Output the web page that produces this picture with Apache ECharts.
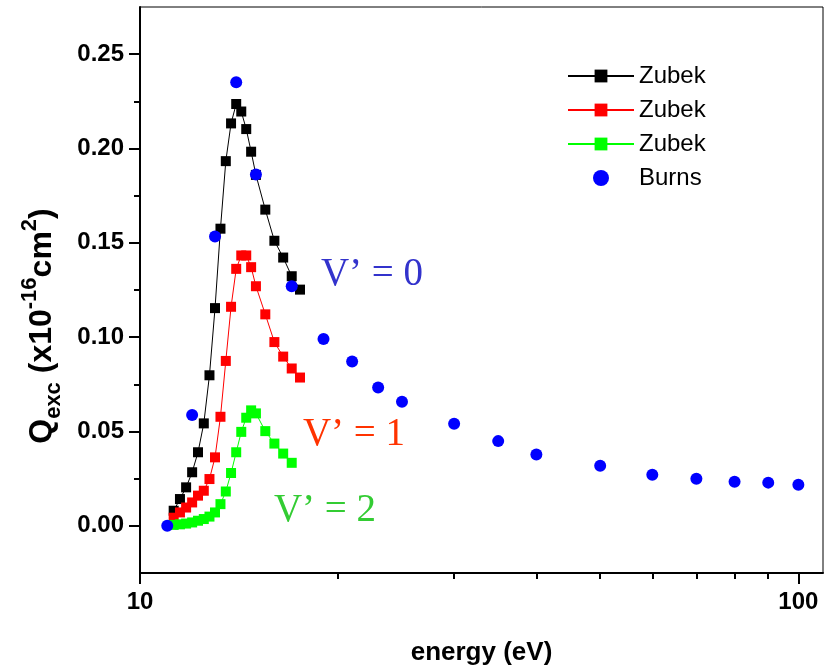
<!DOCTYPE html>
<html>
<head>
<meta charset="utf-8">
<script src="https://cdn.jsdelivr.net/npm/echarts@6/dist/echarts.min.js"></script>
<style>html,body{margin:0;padding:0;background:#fff}#c{width:827px;height:666px}</style>
</head>
<body>
<div id="c"></div>
<script>
// ---- data ----
const zubekEnergy = [11.25, 11.5, 11.75, 12.0, 12.25, 12.5, 12.75, 13.0, 13.25, 13.5, 13.75, 14.0, 14.25, 14.5, 14.75, 15.0, 15.5, 16.0, 16.5, 17.0, 17.5];
const zubekV0 = [0.0080, 0.0142, 0.0204, 0.0284, 0.0390, 0.0543, 0.0798, 0.1154, 0.1575, 0.1933, 0.2133, 0.2236, 0.2196, 0.2103, 0.1983, 0.1860, 0.1676, 0.1511, 0.1422, 0.1323, 0.1252];
const zubekV1 = [0.0043, 0.0071, 0.0097, 0.0124, 0.0160, 0.0186, 0.0248, 0.0363, 0.0578, 0.0874, 0.1161, 0.1362, 0.1433, 0.1433, 0.1371, 0.1270, 0.1121, 0.0974, 0.0897, 0.0834, 0.0786];
const zubekV2Energy = [11.25, 11.5, 11.75, 12.0, 12.25, 12.5, 12.75, 13.0, 13.25, 13.5, 13.75, 14.0, 14.25, 14.5, 14.75, 15.0, 15.5, 16.0, 16.5, 17.0];
const zubekV2 = [0.0005, 0.0008, 0.0012, 0.0018, 0.0027, 0.0036, 0.0049, 0.0071, 0.0115, 0.0182, 0.0280, 0.0390, 0.0498, 0.0573, 0.0612, 0.0596, 0.0502, 0.0436, 0.0383, 0.0334];
const burnsEnergy = [11, 12, 13, 14, 15, 17, 19, 21, 23, 25, 30, 35, 40, 50, 60, 70, 80, 90, 100];
const burnsQ = [0.0, 0.0587, 0.1534, 0.2351, 0.1862, 0.1270, 0.0990, 0.0871, 0.0733, 0.0658, 0.0541, 0.0449, 0.0378, 0.0319, 0.0271, 0.0250, 0.0234, 0.0229, 0.0218];

const seriesNames = ['Zubek v0', 'Zubek v1', 'Zubek v2', 'Burns'];
const xMajorTicks = [10, 100];
const xMinorTicks = [20, 30, 40, 50, 60, 70, 80, 90];
const yMajorTicks = [0, 0.05, 0.10, 0.15, 0.20, 0.25];
const yMinorTicks = [0.025, 0.075, 0.125, 0.175, 0.225];
const annotationTexts = ['V\u2019 = 0', 'V\u2019 = 1', 'V\u2019 = 2'];
const xTitle = 'energy (eV)';

// ---- chart ----
const FONT = '"Liberation Sans", Arial, sans-serif';
const SERIF = '"Liberation Serif", "Times New Roman", serif';
const pairs = (xs, ys) => xs.map((x, i) => [x, ys[i]]);

const chart = echarts.init(document.getElementById('c'), null, {renderer: 'canvas'});

const tickStyle = {color: '#000', width: 2};
const option = {
  animation: false,
  backgroundColor: '#fff',
  grid: {left: 140, top: 7, width: 683, height: 566, show: true, borderColor: '#000', borderWidth: 1,
         backgroundColor: 'transparent', containLabel: false, outerBoundsMode: 'none'},
  legend: {
    orient: 'vertical', left: 562, top: 59,
    itemWidth: 66, itemHeight: 16, itemGap: 10,
    textStyle: {fontFamily: FONT, fontSize: 24, color: '#000', lineHeight: 24},
    formatter: n => n.split(' ')[0],
    data: seriesNames
  },
  xAxis: [
    {
      type: 'log', logBase: 10, min: 10, max: 109,
      name: xTitle, nameLocation: 'middle', nameGap: 67,
      nameTextStyle: {fontFamily: FONT, fontWeight: 'bold', fontSize: 26, color: '#000'},
      axisLine: {show: true, onZero: false, lineStyle: {color: '#000', width: 2}},
      axisTick: {show: true, inside: false, length: 11, lineStyle: tickStyle, customValues: xMajorTicks},
      axisLabel: {customValues: xMajorTicks, fontFamily: FONT, fontWeight: 'bold', fontSize: 24, color: '#000', margin: 17,
                  formatter: v => String(Math.round(v))},
      splitLine: {show: false}, minorTick: {show: false}, minorSplitLine: {show: false}
    },
    {
      type: 'log', logBase: 10, min: 10, max: 109, position: 'bottom',
      axisLine: {show: false, onZero: false},
      axisTick: {show: true, inside: false, length: 6, lineStyle: tickStyle, customValues: xMinorTicks},
      axisLabel: {show: false}, splitLine: {show: false}
    }
  ],
  yAxis: [
    {
      type: 'value', min: -0.025, max: 0.275, position: 'left',
      axisLine: {show: true, onZero: false, lineStyle: {color: '#000', width: 2}},
      axisTick: {show: true, inside: false, length: 11, lineStyle: tickStyle, customValues: yMajorTicks},
      axisLabel: {customValues: yMajorTicks, fontFamily: FONT, fontWeight: 'bold', fontSize: 24, color: '#000', margin: 16,
                  formatter: v => Number(v).toFixed(2)},
      splitLine: {show: false}
    },
    {
      type: 'value', min: -0.025, max: 0.275, position: 'left', offset: 0,
      axisLine: {show: false, onZero: false},
      axisTick: {show: true, inside: false, length: 6, lineStyle: tickStyle, customValues: yMinorTicks},
      axisLabel: {show: false}, splitLine: {show: false}
    }
  ],
  series: [
    {name: seriesNames[0], type: 'line', data: pairs(zubekEnergy, zubekV0), symbol: 'rect', symbolSize: 10,
     itemStyle: {color: '#000000', opacity: 1}, lineStyle: {color: '#000000', width: 1}, z: 2},
    {name: seriesNames[1], type: 'line', data: pairs(zubekEnergy, zubekV1), symbol: 'rect', symbolSize: 10,
     itemStyle: {color: '#ff0000', opacity: 1}, lineStyle: {color: '#ff0000', width: 1}, z: 3},
    {name: seriesNames[2], type: 'line', data: pairs(zubekV2Energy, zubekV2), symbol: 'rect', symbolSize: 10,
     itemStyle: {color: '#00ff00', opacity: 1}, lineStyle: {color: '#00ff00', width: 1}, z: 4},
    {name: seriesNames[3], type: 'scatter', data: pairs(burnsEnergy, burnsQ), symbol: 'circle', symbolSize: 12,
     itemStyle: {color: '#0000ff', opacity: 1}, z: 5}
  ],
  graphic: [
    {type: 'text', x: 42, y: 326, rotation: Math.PI / 2,
     style: {
       text: '{m|Q}{s|exc}{m| (x10}{p|-16}{m|cm}{p|2}{m|)}',
       rich: {
         m: {fontFamily: FONT, fontSize: 32, fontWeight: 'bold', lineHeight: 46, verticalAlign: 'middle'},
         s: {fontFamily: FONT, fontSize: 22, fontWeight: 'bold', lineHeight: 25, verticalAlign: 'bottom'},
         p: {fontFamily: FONT, fontSize: 22, fontWeight: 'bold', lineHeight: 25, verticalAlign: 'top'}
       },
       fill: '#000', align: 'center', verticalAlign: 'middle'
     }},
    {type: 'text', x: 372, y: 275, style: {text: annotationTexts[0], font: '39px ' + SERIF, fill: '#3333cc', align: 'center', verticalAlign: 'middle'}},
    {type: 'text', x: 354, y: 435, style: {text: annotationTexts[1], font: '39px ' + SERIF, fill: '#ff3300', align: 'center', verticalAlign: 'middle'}},
    {type: 'text', x: 325, y: 511, style: {text: annotationTexts[2], font: '39px ' + SERIF, fill: '#33cc33', align: 'center', verticalAlign: 'middle'}}
  ]
};
chart.setOption(option);
</script>
</body>
</html>
